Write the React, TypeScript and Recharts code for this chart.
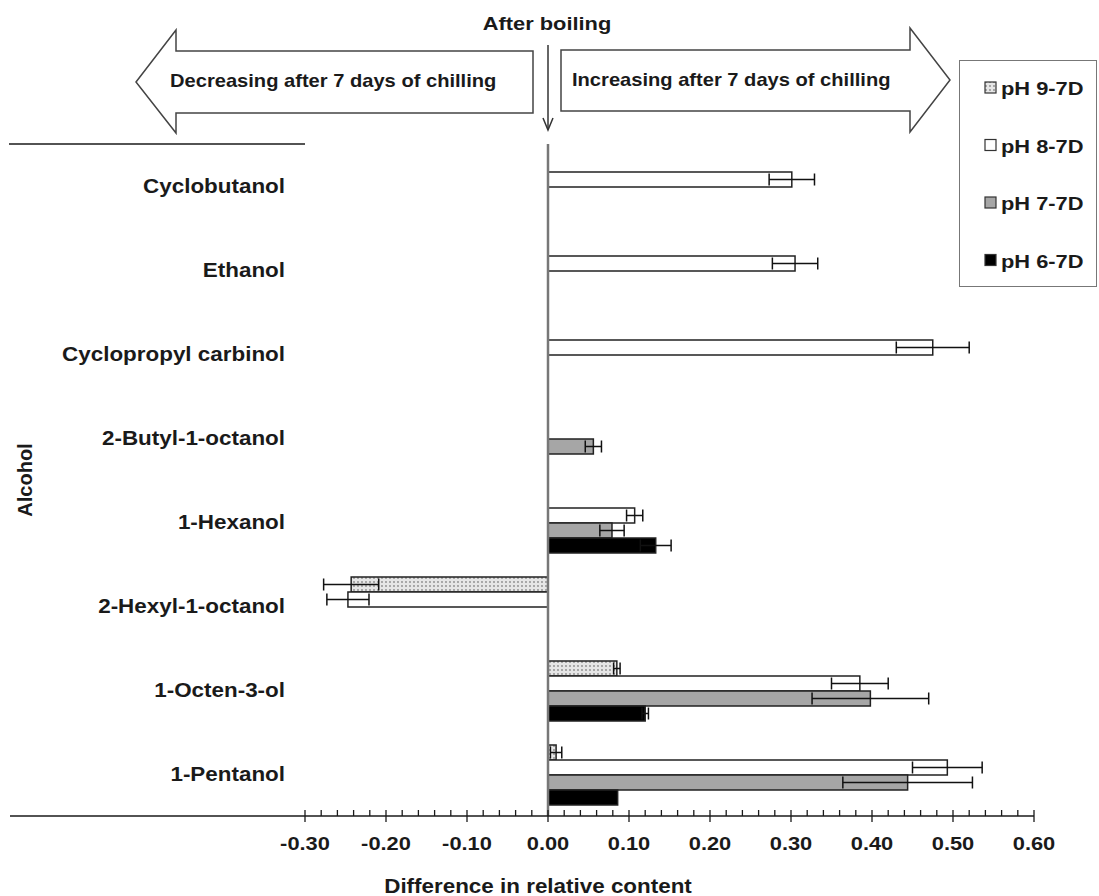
import React from 'react';
import { BarChart, Bar, XAxis, YAxis, ErrorBar, ReferenceLine, Legend, Label } from 'recharts';

const CATEGORIES = [
  'Cyclobutanol',
  'Ethanol',
  'Cyclopropyl carbinol',
  '2-Butyl-1-octanol',
  '1-Hexanol',
  '2-Hexyl-1-octanol',
  '1-Octen-3-ol',
  '1-Pentanol',
];

const SERIES_NAMES = ['pH 9-7D', 'pH 8-7D', 'pH 7-7D', 'pH 6-7D'];

const PH9 = [null, null, null, null, null, -0.243, 0.085, 0.01];
const PH9_ERR = [null, null, null, null, null, 0.034, 0.004, 0.007];
const PH8 = [0.301, 0.305, 0.475, null, 0.107, -0.247, 0.385, 0.493];
const PH8_ERR = [0.028, 0.028, 0.045, null, 0.01, 0.026, 0.035, 0.043];
const PH7 = [null, null, null, 0.056, 0.079, null, 0.398, 0.444];
const PH7_ERR = [null, null, null, 0.01, 0.015, null, 0.072, 0.08];
const PH6 = [null, null, null, null, 0.133, null, 0.12, 0.086];
const PH6_ERR = [null, null, null, null, 0.019, null, 0.004, null];

const MAJOR_TICKS = [-0.3, -0.2, -0.1, 0, 0.1, 0.2, 0.3, 0.4, 0.5, 0.6];
const MINOR_TICKS = [
  -0.28, -0.26, -0.24, -0.22, -0.18, -0.16, -0.14, -0.12, -0.08, -0.06, -0.04, -0.02,
  0.02, 0.04, 0.06, 0.08, 0.12, 0.14, 0.16, 0.18, 0.22, 0.24, 0.26, 0.28,
  0.32, 0.34, 0.36, 0.38, 0.42, 0.44, 0.46, 0.48, 0.52, 0.54, 0.56, 0.58,
];
const ALL_TICKS = [...MAJOR_TICKS, ...MINOR_TICKS].sort((a, b) => a - b);

const data = CATEGORIES.map((name, i) => ({
  name,
  ph9: PH9[i],
  ph9e: PH9_ERR[i],
  ph8: PH8[i],
  ph8e: PH8_ERR[i],
  ph7: PH7[i],
  ph7e: PH7_ERR[i],
  ph6: PH6[i],
  ph6e: PH6_ERR[i],
}));

const FONT = '"Liberation Sans", Arial, Helvetica, sans-serif';
const SX = 1.15;
const INK = '#1a1a1a';

const SText = ({ x, y, size, anchor = 'start', children, rotate = 0 }: any) => (
  <g transform={`translate(${x},${y}) rotate(${rotate}) scale(${SX},1)`}>
    <text
      x={0}
      y={0}
      textAnchor={anchor}
      fontFamily={FONT}
      fontWeight="bold"
      fontSize={size}
      fill={INK}
    >
      {children}
    </text>
  </g>
);

const YTick = (props: any) => {
  const { x, y, payload } = props;
  return <SText x={x} y={y + 7} size={19.5} anchor="end">{payload.value}</SText>;
};

const XTick = (props: any) => {
  const { x, y, payload } = props;
  const v = payload.value;
  const major = MAJOR_TICKS.some((m) => Math.abs(m - v) < 1e-9);
  return (
    <g>
      <line
        x1={x}
        x2={x}
        y1={y - 6}
        y2={major ? y + 6 : y}
        stroke={INK}
        strokeWidth={1.3}
      />
      {major && (
        <SText x={x} y={y + 34} size={19} anchor="middle">
          {v.toFixed(2)}
        </SText>
      )}
    </g>
  );
};

const renderLegend = (props: any) => {
  const items = [...(props.payload || [])].sort(
    (a: any, b: any) => SERIES_NAMES.indexOf(a.value) - SERIES_NAMES.indexOf(b.value)
  );
  return (
    <div
      style={{
        width: 138,
        height: 227,
        border: '1px solid #777',
        boxSizing: 'border-box',
        background: '#fff',
      }}
    >
      <svg width={136} height={225} style={{ display: 'block' }}>
        {items.map((it: any, i: number) => (
          <g key={it.value} transform={`translate(0, ${27 + i * 57.5})`}>
            <rect x={25} y={-6} width={11} height={11} fill={it.color} stroke="#333" strokeWidth={1.2} />
            <SText x={41} y={7} size={19}>{it.value}</SText>
          </g>
        ))}
      </svg>
    </div>
  );
};

const XTitle = (props: any) => {
  const vb = props.viewBox || { x: 305, y: 816 };
  return (
    <SText x={vb.x + 233} y={vb.y + 77} size={19.5} anchor="middle">
      Difference in relative content
    </SText>
  );
};

const YTitle = (props: any) => {
  const vb = props.viewBox || { x: 0, y: 144, height: 672 };
  return (
    <g transform={`translate(${vb.x + 32},${vb.y + vb.height / 2}) rotate(-90)`}>
      <text textAnchor="middle" fontFamily={FONT} fontWeight="bold" fontSize={20} fill={INK}>
        Alcohol
      </text>
    </g>
  );
};

const Overlay = () => (
  <svg
    width={1099}
    height={896}
    style={{ position: 'absolute', left: 0, top: 0, pointerEvents: 'none' }}
  >
    <SText x={547} y={30} size={19} anchor="middle">After boiling</SText>
    <polygon
      points="136,82 176,30 176,51 533,51 533,113 176,113 176,133"
      fill="#fff"
      stroke="#444"
      strokeWidth={1.5}
    />
    <SText x={170} y={87} size={17.5}>Decreasing after 7 days of chilling</SText>
    <polygon
      points="561,50 910,50 910,28 950,80 910,132 910,111 561,111"
      fill="#fff"
      stroke="#444"
      strokeWidth={1.5}
    />
    <SText x={572} y={86} size={17.5}>Increasing after 7 days of chilling</SText>
    <line x1={548} y1={45} x2={548} y2={129} stroke="#333" strokeWidth={1.5} />
    <path d="M543,118 L548,130 L553,118" fill="none" stroke="#333" strokeWidth={1.5} />
    <line x1={9} y1={144} x2={305} y2={144} stroke={INK} strokeWidth={1.5} />
    <line x1={10} y1={816} x2={305} y2={816} stroke={INK} strokeWidth={1.5} />
  </svg>
);

export default function App() {
  return (
    <div style={{ position: 'absolute', left: 0, top: 0, width: 1099, height: 896, background: '#fff' }}>
      <BarChart
        width={1099}
        height={896}
        data={data}
        layout="vertical"
        margin={{ top: 144, right: 65, bottom: 0, left: 0 }}
        barCategoryGap={13}
        barGap={0}
      >
        <defs>
          <pattern id="dots" width={4} height={4} patternUnits="userSpaceOnUse">
            <rect width={4} height={4} fill="#e6e6e6" />
            <circle cx={2} cy={2} r={0.9} fill="#8a8a8a" />
          </pattern>
        </defs>
        <XAxis
          type="number"
          domain={[-0.3, 0.6]}
          ticks={ALL_TICKS}
          interval={0}
          tick={<XTick />}
          tickLine={false}
          tickSize={0}
          tickMargin={0}
          axisLine={{ stroke: INK, strokeWidth: 1.5 }}
          height={80}
          allowDataOverflow
        >
          <Label content={<XTitle />} />
        </XAxis>
        <YAxis
          type="category"
          dataKey="name"
          width={305}
          axisLine={false}
          tickLine={false}
          tickSize={0}
          tickMargin={20}
          interval={0}
          tick={<YTick />}
        >
          <Label content={<YTitle />} />
        </YAxis>
        <Legend
          content={renderLegend}
          layout="vertical"
          verticalAlign="middle"
          align="center"
          wrapperStyle={{ position: 'absolute', left: 959, top: 60, width: 138, height: 227 }}
        />
        <Bar dataKey="ph9" name="pH 9-7D" fill="url(#dots)" stroke="#222" strokeWidth={1.5} isAnimationActive={false}>
          <ErrorBar dataKey="ph9e" direction="x" width={6} stroke="#111" strokeWidth={1.5} />
        </Bar>
        <Bar dataKey="ph8" name="pH 8-7D" fill="#ffffff" stroke="#222" strokeWidth={1.5} isAnimationActive={false}>
          <ErrorBar dataKey="ph8e" direction="x" width={6} stroke="#111" strokeWidth={1.5} />
        </Bar>
        <Bar dataKey="ph7" name="pH 7-7D" fill="#a6a6a6" stroke="#222" strokeWidth={1.5} isAnimationActive={false}>
          <ErrorBar dataKey="ph7e" direction="x" width={6} stroke="#111" strokeWidth={1.5} />
        </Bar>
        <Bar dataKey="ph6" name="pH 6-7D" fill="#000000" stroke="#222" strokeWidth={1.5} isAnimationActive={false}>
          <ErrorBar dataKey="ph6e" direction="x" width={6} stroke="#111" strokeWidth={1.5} />
        </Bar>
        <ReferenceLine x={0} stroke="#777" strokeWidth={2.5} />
      </BarChart>
      <Overlay />
    </div>
  );
}
